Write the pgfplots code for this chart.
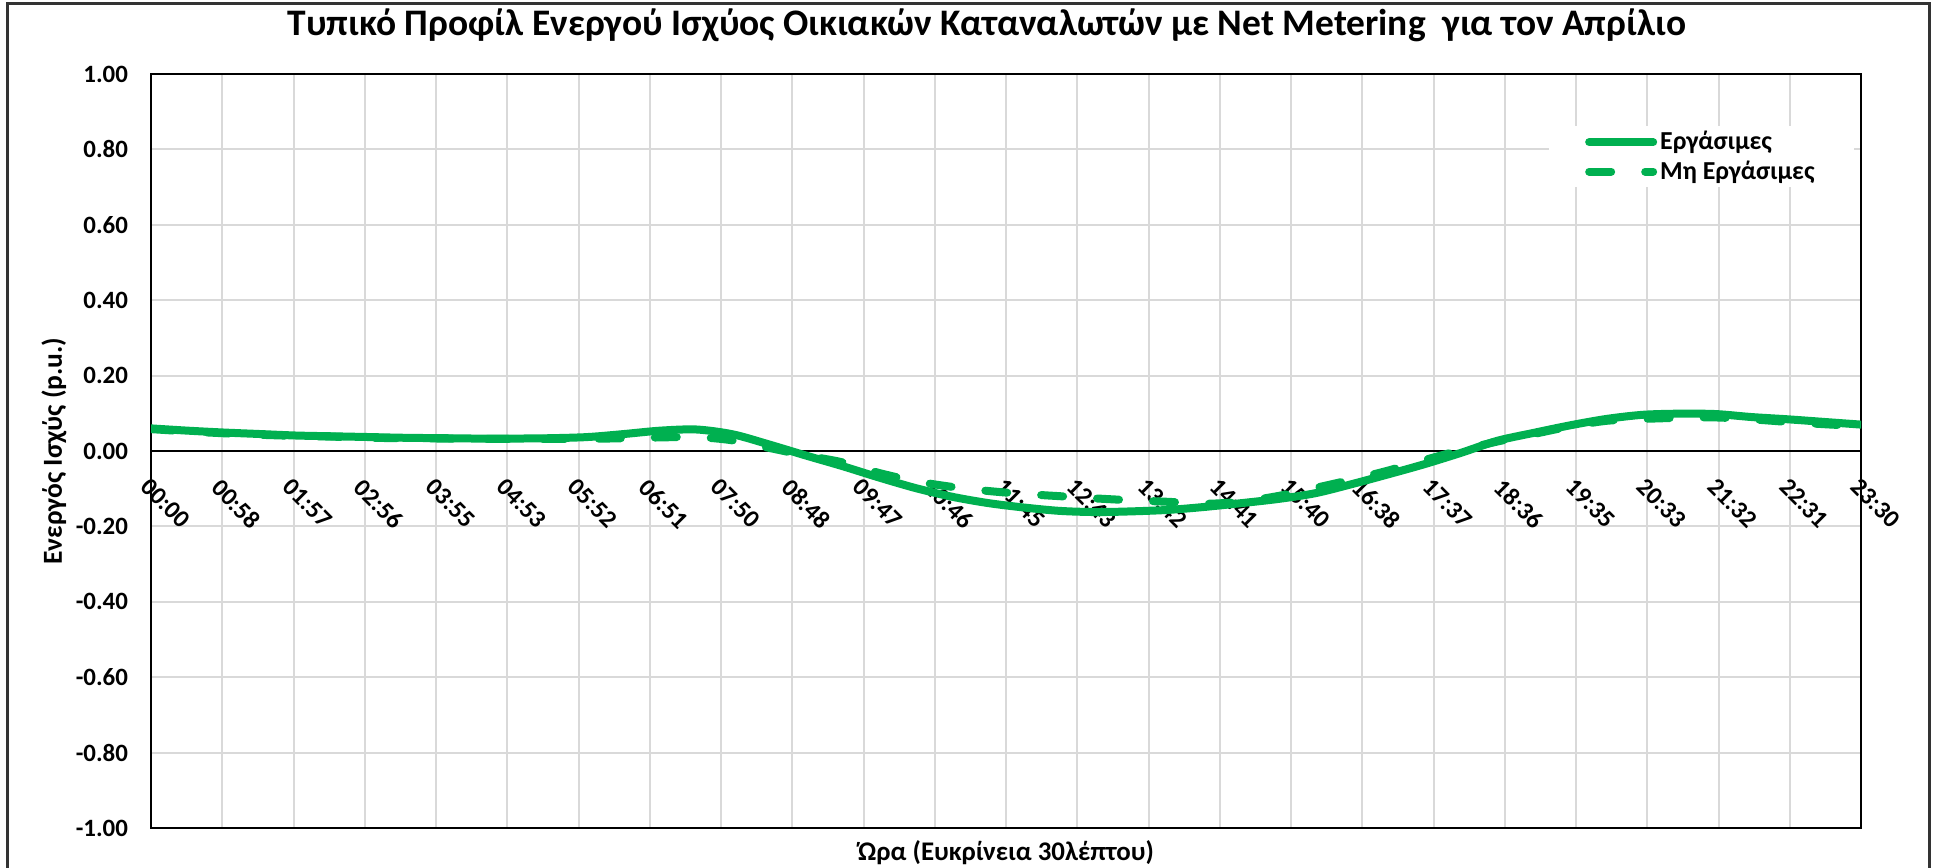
\documentclass[border=0pt]{standalone}
\usepackage{fontspec}
\setmainfont{Carlito}
\usepackage{pgfplots}
\usepackage{pgfplotstable}
\pgfplotsset{compat=1.18}
\definecolor{lgreen}{HTML}{00B050}
\definecolor{gridgray}{HTML}{D9D9D9}

\pgfplotstableread{
h E M
0.0 0.060 0.058
0.5 0.054 0.052
1.0 0.049 0.047
1.5 0.045 0.043
2.0 0.041 0.040
2.5 0.039 0.038
3.0 0.037 0.035
3.5 0.035 0.034
4.0 0.034 0.033
4.5 0.033 0.032
5.0 0.033 0.032
5.5 0.034 0.032
6.0 0.037 0.032
6.5 0.045 0.034
7.0 0.054 0.036
7.5 0.057 0.037
8.0 0.044 0.028
8.5 0.017 0.008
9.0 -0.012 -0.012
9.5 -0.040 -0.030
10.0 -0.070 -0.058
10.5 -0.098 -0.080
11.0 -0.121 -0.095
11.5 -0.138 -0.106
12.0 -0.150 -0.114
12.5 -0.159 -0.120
13.0 -0.162 -0.126
13.5 -0.160 -0.131
14.0 -0.156 -0.135
14.5 -0.148 -0.140
15.0 -0.138 -0.134
15.5 -0.127 -0.119
16.0 -0.112 -0.098
16.5 -0.088 -0.076
17.0 -0.062 -0.052
17.5 -0.035 -0.024
18.0 -0.005 0.002
18.5 0.027 0.025
19.0 0.048 0.045
19.5 0.068 0.065
20.0 0.085 0.080
20.5 0.096 0.085
21.0 0.099 0.088
21.5 0.098 0.089
22.0 0.090 0.084
22.5 0.084 0.077
23.0 0.077 0.071
23.5 0.070 0.066
}\data

\begin{document}
\begin{tikzpicture}
\useasboundingbox (0,0) rectangle (970.5bp,434bp);
\draw[black!80, line width=1.5bp] (3.5bp,-2bp) -- (3.5bp,432bp) -- (964.5bp,432bp) -- (964.5bp,-2bp);
\begin{axis}[
  at={(75.5bp,20bp)}, anchor=south west,
  width=855bp, height=377bp, scale only axis,
  xmin=0, xmax=23.5, ymin=-1, ymax=1,
  xtick={0,0.97917,1.95833,2.9375,3.91667,4.89583,5.875,6.85417,7.83333,8.8125,9.79167,10.77083,11.75,12.72917,13.70833,14.6875,15.66667,16.64583,17.625,18.60417,19.58333,20.5625,21.54167,22.52083,23.5},
  xticklabels={00:00,00:58,01:57,02:56,03:55,04:53,05:52,06:51,07:50,08:48,09:47,10:46,11:45,12:43,13:42,14:41,15:40,16:38,17:37,18:36,19:35,20:33,21:32,22:31,23:30},
  ytick={-1,-0.8,-0.6,-0.4,-0.2,0,0.2,0.4,0.6,0.8,1},
  yticklabels={-1.00,-0.80,-0.60,-0.40,-0.20,0.00,0.20,0.40,0.60,0.80,1.00},
  extra y ticks={0}, extra y tick labels={},
  extra y tick style={grid style={black, line width=0.8bp}},
  grid=major, grid style={gridgray, line width=1bp},
  major tick length=0,
  axis line style={black, line width=0.8bp},
  yticklabel style={font=\bfseries\fontsize{12.5}{14}\selectfont, xshift=-8bp},
  xticklabel style={font=\bfseries\fontsize{12.5}{14}\selectfont, yshift=177bp, rotate=-45, anchor=north west, inner sep=1bp},
  title={Τυπικό Προφίλ Ενεργού Ισχύος Οικιακών Καταναλωτών με Net Metering\ \ για τον Απρίλιο},
  title style={at={(axis description cs:0.4889,1.049)}, anchor=center, font=\bfseries\fontsize{18.8}{22}\selectfont},
  xlabel={Ώρα (Ευκρίνεια 30λέπτου)},
  xlabel style={at={(axis description cs:0.5,-0.0332)}, anchor=center, font=\bfseries\fontsize{13.5}{16}\selectfont},
  ylabel={Ενεργός Ισχύς (p.u.)},
  ylabel style={at={(axis description cs:-0.0567,0.5)}, anchor=center, font=\bfseries\fontsize{13.8}{16}\selectfont},
  legend style={at={(axis description cs:0.9959,0.931)}, anchor=north east, draw=none, fill=white,
    inner xsep=18bp, inner ysep=1bp, row sep=1bp,
    font=\bfseries\fontsize{13}{15}\selectfont, nodes={inner sep=1.5bp}},
  legend cell align=left,
  legend image code/.code={\draw[#1] (2.25bp,0bp) -- (34.25bp,0bp);},
]
\addplot[lgreen, line width=4bp, smooth, line cap=round, line join=round] table[x=h, y=E] {\data};
\addlegendentry{Εργάσιμες}
\addplot[lgreen, line width=4bp, smooth, line cap=round, line join=round, dash pattern=on 11bp off 17bp] table[x=h, y=M] {\data};
\addlegendentry{Μη Εργάσιμες}
\end{axis}
\end{tikzpicture}
\end{document}
